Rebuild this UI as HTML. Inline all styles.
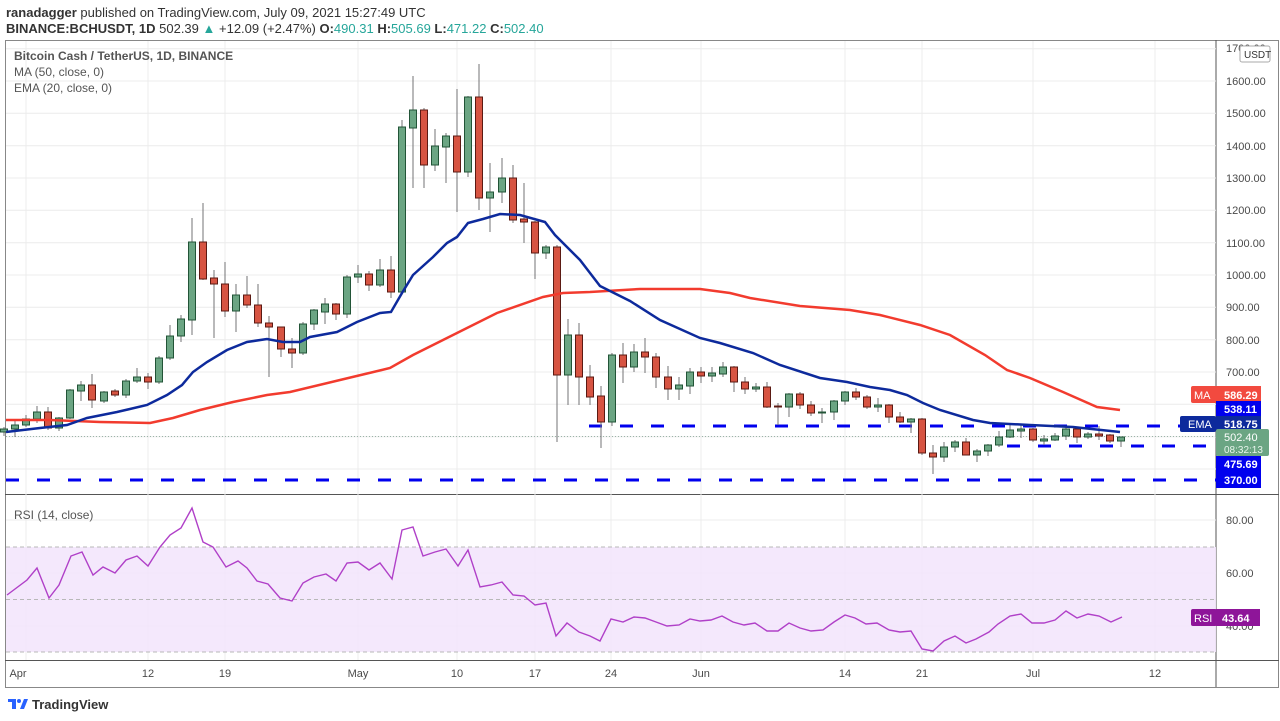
<!DOCTYPE html>
<html><head><meta charset="utf-8"><style>
body{margin:0;background:#fff;}
svg{display:block;font-family:"Liberation Sans",sans-serif;}
.w{stroke:#737375;stroke-width:1}
.g{fill:#6ba583;stroke:#225437;stroke-width:1}
.r{fill:#d75442;stroke:#5b1a13;stroke-width:1}
.gr{stroke:#ececec;stroke-width:1}
.ax{font-size:11px;fill:#4a4a4a}
.tl{font-size:11px;fill:#4a4a4a;text-anchor:middle}
</style></head><body>
<svg width="1280" height="721" viewBox="0 0 1280 721">
<rect width="1280" height="721" fill="#fff"/>
<text x="6" y="17" font-size="13" fill="#333"><tspan font-weight="bold">ranadagger</tspan> published on TradingView.com, July 09, 2021 15:27:49 UTC</text>
<text x="6" y="33" font-size="13" fill="#333"><tspan font-weight="bold">BINANCE:BCHUSDT, 1D</tspan>  502.39 <tspan fill="#26a69a">▲</tspan> +12.09 (+2.47%) <tspan font-weight="bold">O:</tspan><tspan fill="#26a69a">490.31</tspan> <tspan font-weight="bold">H:</tspan><tspan fill="#26a69a">505.69</tspan> <tspan font-weight="bold">L:</tspan><tspan fill="#26a69a">471.22</tspan> <tspan font-weight="bold">C:</tspan><tspan fill="#26a69a">502.40</tspan></text>
<!-- frame -->
<rect x="5.5" y="40.5" width="1273" height="647" fill="none" stroke="#888"/>
<line x1="1216" y1="40" x2="1216" y2="687" stroke="#555"/>
<line x1="5" y1="494.5" x2="1279" y2="494.5" stroke="#555"/>
<line x1="5" y1="660.5" x2="1279" y2="660.5" stroke="#555"/>
<!-- grids -->
<g class="gr">
<line x1="6" x2="1216" y1="48.7" y2="48.7"/><line x1="6" x2="1216" y1="81" y2="81"/><line x1="6" x2="1216" y1="113.3" y2="113.3"/><line x1="6" x2="1216" y1="145.7" y2="145.7"/><line x1="6" x2="1216" y1="178" y2="178"/><line x1="6" x2="1216" y1="210.3" y2="210.3"/><line x1="6" x2="1216" y1="242.7" y2="242.7"/><line x1="6" x2="1216" y1="275" y2="275"/><line x1="6" x2="1216" y1="307.3" y2="307.3"/><line x1="6" x2="1216" y1="339.7" y2="339.7"/><line x1="6" x2="1216" y1="372" y2="372"/><line x1="6" x2="1216" y1="404.3" y2="404.3"/><line x1="6" x2="1216" y1="436.7" y2="436.7"/><line x1="6" x2="1216" y1="469" y2="469"/>
<line x1="6" x2="1216" y1="520" y2="520"/><line x1="6" x2="1216" y1="573" y2="573"/><line x1="6" x2="1216" y1="626" y2="626"/>
<line y1="41" y2="660" x1="26" x2="26"/><line y1="41" y2="660" x1="148" x2="148"/><line y1="41" y2="660" x1="225" x2="225"/><line y1="41" y2="660" x1="358" x2="358"/><line y1="41" y2="660" x1="457" x2="457"/><line y1="41" y2="660" x1="535" x2="535"/><line y1="41" y2="660" x1="611" x2="611"/><line y1="41" y2="660" x1="701" x2="701"/><line y1="41" y2="660" x1="845" x2="845"/><line y1="41" y2="660" x1="922" x2="922"/><line y1="41" y2="660" x1="1033" x2="1033"/><line y1="41" y2="660" x1="1155" x2="1155"/>
</g>
<!-- legend -->
<text x="14" y="60" font-size="12" fill="#555" font-weight="bold">Bitcoin Cash / TetherUS, 1D, BINANCE</text>
<text x="14" y="76" font-size="12" fill="#555">MA (50, close, 0)</text>
<text x="14" y="92" font-size="12" fill="#555">EMA (20, close, 0)</text>
<!-- current price dotted -->
<line x1="6" x2="1216" y1="436.5" y2="436.5" stroke="#9bb5a8" stroke-dasharray="1,2"/>
<!-- dashed levels -->
<g stroke="#0000ee" stroke-width="3" stroke-dasharray="13,18">
<line x1="589" x2="1216" y1="426" y2="426"/>
<line x1="1007" x2="1216" y1="446" y2="446"/>
<line x1="6" x2="1216" y1="480" y2="480"/>
</g>
<!-- candles -->
<g>
<line class="w" x1="4" x2="4" y1="427" y2="436"/><rect class="g" x="0.5" y="429" width="7" height="3"/>
<line class="w" x1="15" x2="15" y1="421" y2="437"/><rect class="g" x="11.5" y="425" width="7" height="4"/>
<line class="w" x1="26" x2="26" y1="415" y2="427"/><rect class="g" x="22.5" y="419" width="7" height="6"/>
<line class="w" x1="37" x2="37" y1="406" y2="423"/><rect class="g" x="33.5" y="412" width="7" height="7"/>
<line class="w" x1="48" x2="48" y1="407" y2="430"/><rect class="r" x="44.5" y="412" width="7" height="16"/>
<line class="w" x1="59" x2="59" y1="417" y2="431"/><rect class="g" x="55.5" y="418" width="7" height="10"/>
<line class="w" x1="70" x2="70" y1="389" y2="419"/><rect class="g" x="66.5" y="390" width="7" height="28"/>
<line class="w" x1="81" x2="81" y1="381" y2="401"/><rect class="g" x="77.5" y="385" width="7" height="6"/>
<line class="w" x1="92" x2="92" y1="374" y2="408"/><rect class="r" x="88.5" y="385" width="7" height="15"/>
<line class="w" x1="104" x2="104" y1="391" y2="403"/><rect class="g" x="100.5" y="392" width="7" height="9"/>
<line class="w" x1="115" x2="115" y1="389" y2="397"/><rect class="r" x="111.5" y="391" width="7" height="4"/>
<line class="w" x1="126" x2="126" y1="379" y2="398"/><rect class="g" x="122.5" y="381" width="7" height="14"/>
<line class="w" x1="137" x2="137" y1="368" y2="383"/><rect class="g" x="133.5" y="377" width="7" height="4"/>
<line class="w" x1="148" x2="148" y1="373" y2="389"/><rect class="r" x="144.5" y="377" width="7" height="5"/>
<line class="w" x1="159" x2="159" y1="356" y2="384"/><rect class="g" x="155.5" y="358" width="7" height="24"/>
<line class="w" x1="170" x2="170" y1="325" y2="360"/><rect class="g" x="166.5" y="336" width="7" height="22"/>
<line class="w" x1="181" x2="181" y1="315" y2="342"/><rect class="g" x="177.5" y="319" width="7" height="17"/>
<line class="w" x1="192" x2="192" y1="218" y2="335"/><rect class="g" x="188.5" y="242" width="7" height="78"/>
<line class="w" x1="203" x2="203" y1="203" y2="280"/><rect class="r" x="199.5" y="242" width="7" height="37"/>
<line class="w" x1="214" x2="214" y1="270" y2="338"/><rect class="r" x="210.5" y="278" width="7" height="6"/>
<line class="w" x1="225" x2="225" y1="262" y2="317"/><rect class="r" x="221.5" y="284" width="7" height="27"/>
<line class="w" x1="236" x2="236" y1="284" y2="332"/><rect class="g" x="232.5" y="295" width="7" height="16"/>
<line class="w" x1="247" x2="247" y1="276" y2="308"/><rect class="r" x="243.5" y="295" width="7" height="10"/>
<line class="w" x1="258" x2="258" y1="284" y2="327"/><rect class="r" x="254.5" y="305" width="7" height="18"/>
<line class="w" x1="269" x2="269" y1="316" y2="377"/><rect class="r" x="265.5" y="323" width="7" height="4"/>
<line class="w" x1="281" x2="281" y1="327" y2="357"/><rect class="r" x="277.5" y="327" width="7" height="22"/>
<line class="w" x1="292" x2="292" y1="338" y2="368"/><rect class="r" x="288.5" y="349" width="7" height="4"/>
<line class="w" x1="303" x2="303" y1="322" y2="355"/><rect class="g" x="299.5" y="324" width="7" height="29"/>
<line class="w" x1="314" x2="314" y1="309" y2="330"/><rect class="g" x="310.5" y="310" width="7" height="14"/>
<line class="w" x1="325" x2="325" y1="298" y2="324"/><rect class="g" x="321.5" y="304" width="7" height="8"/>
<line class="w" x1="336" x2="336" y1="303" y2="320"/><rect class="r" x="332.5" y="304" width="7" height="10"/>
<line class="w" x1="347" x2="347" y1="275" y2="318"/><rect class="g" x="343.5" y="277" width="7" height="37"/>
<line class="w" x1="358" x2="358" y1="265" y2="283"/><rect class="g" x="354.5" y="274" width="7" height="3"/>
<line class="w" x1="369" x2="369" y1="271" y2="291"/><rect class="r" x="365.5" y="274" width="7" height="11"/>
<line class="w" x1="380" x2="380" y1="259" y2="287"/><rect class="g" x="376.5" y="270" width="7" height="15"/>
<line class="w" x1="391" x2="391" y1="256" y2="298"/><rect class="r" x="387.5" y="270" width="7" height="22"/>
<line class="w" x1="402" x2="402" y1="120" y2="293"/><rect class="g" x="398.5" y="127" width="7" height="165"/>
<line class="w" x1="413" x2="413" y1="76" y2="188"/><rect class="g" x="409.5" y="110" width="7" height="18"/>
<line class="w" x1="424" x2="424" y1="108" y2="188"/><rect class="r" x="420.5" y="110" width="7" height="55"/>
<line class="w" x1="435" x2="435" y1="129" y2="171"/><rect class="g" x="431.5" y="146" width="7" height="19"/>
<line class="w" x1="446" x2="446" y1="133" y2="183"/><rect class="g" x="442.5" y="136" width="7" height="11"/>
<line class="w" x1="457" x2="457" y1="89" y2="212"/><rect class="r" x="453.5" y="136" width="7" height="36"/>
<line class="w" x1="468" x2="468" y1="96" y2="177"/><rect class="g" x="464.5" y="97" width="7" height="75"/>
<line class="w" x1="479" x2="479" y1="64" y2="210"/><rect class="r" x="475.5" y="97" width="7" height="101"/>
<line class="w" x1="490" x2="490" y1="163" y2="232"/><rect class="g" x="486.5" y="192" width="7" height="6"/>
<line class="w" x1="502" x2="502" y1="158" y2="203"/><rect class="g" x="498.5" y="178" width="7" height="14"/>
<line class="w" x1="513" x2="513" y1="165" y2="223"/><rect class="r" x="509.5" y="178" width="7" height="42"/>
<line class="w" x1="524" x2="524" y1="183" y2="243"/><rect class="r" x="520.5" y="219" width="7" height="3"/>
<line class="w" x1="535" x2="535" y1="221" y2="279"/><rect class="r" x="531.5" y="222" width="7" height="31"/>
<line class="w" x1="546" x2="546" y1="245" y2="259"/><rect class="g" x="542.5" y="247" width="7" height="6"/>
<line class="w" x1="557" x2="557" y1="245" y2="442"/><rect class="r" x="553.5" y="247" width="7" height="128"/>
<line class="w" x1="568" x2="568" y1="319" y2="405"/><rect class="g" x="564.5" y="335" width="7" height="40"/>
<line class="w" x1="579" x2="579" y1="323" y2="405"/><rect class="r" x="575.5" y="335" width="7" height="42"/>
<line class="w" x1="590" x2="590" y1="365" y2="405"/><rect class="r" x="586.5" y="377" width="7" height="20"/>
<line class="w" x1="601" x2="601" y1="386" y2="448"/><rect class="r" x="597.5" y="396" width="7" height="26"/>
<line class="w" x1="612" x2="612" y1="353" y2="426"/><rect class="g" x="608.5" y="355" width="7" height="67"/>
<line class="w" x1="623" x2="623" y1="343" y2="383"/><rect class="r" x="619.5" y="355" width="7" height="12"/>
<line class="w" x1="634" x2="634" y1="344" y2="372"/><rect class="g" x="630.5" y="352" width="7" height="15"/>
<line class="w" x1="645" x2="645" y1="338" y2="373"/><rect class="r" x="641.5" y="352" width="7" height="5"/>
<line class="w" x1="656" x2="656" y1="353" y2="388"/><rect class="r" x="652.5" y="357" width="7" height="20"/>
<line class="w" x1="668" x2="668" y1="366" y2="400"/><rect class="r" x="664.5" y="377" width="7" height="12"/>
<line class="w" x1="679" x2="679" y1="377" y2="400"/><rect class="g" x="675.5" y="385" width="7" height="4"/>
<line class="w" x1="690" x2="690" y1="368" y2="394"/><rect class="g" x="686.5" y="372" width="7" height="14"/>
<line class="w" x1="701" x2="701" y1="367" y2="383"/><rect class="r" x="697.5" y="372" width="7" height="4"/>
<line class="w" x1="712" x2="712" y1="367" y2="382"/><rect class="g" x="708.5" y="373" width="7" height="3"/>
<line class="w" x1="723" x2="723" y1="362" y2="377"/><rect class="g" x="719.5" y="367" width="7" height="7"/>
<line class="w" x1="734" x2="734" y1="366" y2="392"/><rect class="r" x="730.5" y="367" width="7" height="15"/>
<line class="w" x1="745" x2="745" y1="377" y2="394"/><rect class="r" x="741.5" y="382" width="7" height="7"/>
<line class="w" x1="756" x2="756" y1="383" y2="392"/><rect class="g" x="752.5" y="387" width="7" height="2"/>
<line class="w" x1="767" x2="767" y1="382" y2="408"/><rect class="r" x="763.5" y="387" width="7" height="20"/>
<line class="w" x1="778" x2="778" y1="403" y2="425"/><rect class="r" x="774.5" y="406" width="7" height="1"/>
<line class="w" x1="789" x2="789" y1="393" y2="417"/><rect class="g" x="785.5" y="394" width="7" height="13"/>
<line class="w" x1="800" x2="800" y1="392" y2="409"/><rect class="r" x="796.5" y="394" width="7" height="11"/>
<line class="w" x1="811" x2="811" y1="401" y2="416"/><rect class="r" x="807.5" y="405" width="7" height="8"/>
<line class="w" x1="822" x2="822" y1="408" y2="423"/><rect class="g" x="818.5" y="412" width="7" height="1"/>
<line class="w" x1="834" x2="834" y1="400" y2="420"/><rect class="g" x="830.5" y="401" width="7" height="11"/>
<line class="w" x1="845" x2="845" y1="391" y2="405"/><rect class="g" x="841.5" y="392" width="7" height="9"/>
<line class="w" x1="856" x2="856" y1="388" y2="400"/><rect class="r" x="852.5" y="392" width="7" height="5"/>
<line class="w" x1="867" x2="867" y1="395" y2="409"/><rect class="r" x="863.5" y="397" width="7" height="10"/>
<line class="w" x1="878" x2="878" y1="398" y2="412"/><rect class="g" x="874.5" y="405" width="7" height="2"/>
<line class="w" x1="889" x2="889" y1="404" y2="423"/><rect class="r" x="885.5" y="405" width="7" height="12"/>
<line class="w" x1="900" x2="900" y1="412" y2="423"/><rect class="r" x="896.5" y="417" width="7" height="5"/>
<line class="w" x1="911" x2="911" y1="418" y2="433"/><rect class="g" x="907.5" y="419" width="7" height="3"/>
<line class="w" x1="922" x2="922" y1="418" y2="455"/><rect class="r" x="918.5" y="419" width="7" height="34"/>
<line class="w" x1="933" x2="933" y1="445" y2="474"/><rect class="r" x="929.5" y="453" width="7" height="4"/>
<line class="w" x1="944" x2="944" y1="442" y2="462"/><rect class="g" x="940.5" y="447" width="7" height="10"/>
<line class="w" x1="955" x2="955" y1="440" y2="452"/><rect class="g" x="951.5" y="442" width="7" height="5"/>
<line class="w" x1="966" x2="966" y1="438" y2="455"/><rect class="r" x="962.5" y="442" width="7" height="13"/>
<line class="w" x1="977" x2="977" y1="449" y2="462"/><rect class="g" x="973.5" y="451" width="7" height="4"/>
<line class="w" x1="988" x2="988" y1="444" y2="456"/><rect class="g" x="984.5" y="445" width="7" height="6"/>
<line class="w" x1="999" x2="999" y1="431" y2="447"/><rect class="g" x="995.5" y="437" width="7" height="8"/>
<line class="w" x1="1010" x2="1010" y1="423" y2="438"/><rect class="g" x="1006.5" y="430" width="7" height="7"/>
<line class="w" x1="1021" x2="1021" y1="425" y2="438"/><rect class="g" x="1017.5" y="429" width="7" height="2"/>
<line class="w" x1="1033" x2="1033" y1="428" y2="442"/><rect class="r" x="1029.5" y="429" width="7" height="11"/>
<line class="w" x1="1044" x2="1044" y1="435" y2="445"/><rect class="g" x="1040.5" y="439" width="7" height="2"/>
<line class="w" x1="1055" x2="1055" y1="433" y2="441"/><rect class="g" x="1051.5" y="436" width="7" height="4"/>
<line class="w" x1="1066" x2="1066" y1="426" y2="440"/><rect class="g" x="1062.5" y="429" width="7" height="7"/>
<line class="w" x1="1077" x2="1077" y1="428" y2="443"/><rect class="r" x="1073.5" y="429" width="7" height="8"/>
<line class="w" x1="1088" x2="1088" y1="432" y2="439"/><rect class="g" x="1084.5" y="434" width="7" height="3"/>
<line class="w" x1="1099" x2="1099" y1="426" y2="440"/><rect class="r" x="1095.5" y="434" width="7" height="2"/>
<line class="w" x1="1110" x2="1110" y1="434" y2="443"/><rect class="r" x="1106.5" y="435" width="7" height="6"/>
<line class="w" x1="1121" x2="1121" y1="437" y2="447"/><rect class="g" x="1117.5" y="437" width="7" height="4"/>
</g>
<!-- MA 50 red -->
<polyline fill="none" stroke="#f23b2e" stroke-width="2.5" points="6,420 50,420 100,422 150,423 173,418 200,410 233,402 267,395 290,392 340,380 390,368 413,355 457,333 497,313 543,297 563,293 590,292 640,289 700,289 730,293 750,298 800,306 850,310 880,315 920,325 950,335 985,355 1007,370 1030,378 1063,392 1097,407 1120,410"/>
<!-- EMA 20 blue -->
<polyline fill="none" stroke="#0d2a9c" stroke-width="2.5" points="6,432 40,428 67,425 87,418 117,412 147,405 167,395 182,385 193,372 207,362 227,350 247,342 267,339 283,342 300,342 310,337 337,332 357,322 380,313 391,312 402,293 413,275 433,257 447,243 457,237 468,223 483,219 500,214 520,215 545,222 555,235 567,247 580,260 590,273 600,286 630,301 660,320 700,338 720,343 753,353 780,365 820,378 847,382 870,387 890,390 907,395 923,403 940,410 973,420 990,423 1030,425 1073,427 1120,432"/>
<!-- price axis labels -->
<g class="ax">
<text x="1226" y="52">1700.00</text><text x="1226" y="85">1600.00</text><text x="1226" y="117">1500.00</text><text x="1226" y="150">1400.00</text><text x="1226" y="182">1300.00</text><text x="1226" y="214">1200.00</text><text x="1226" y="247">1100.00</text><text x="1226" y="279">1000.00</text><text x="1226" y="311">900.00</text><text x="1226" y="344">800.00</text><text x="1226" y="376">700.00</text>
<text x="1226" y="524">80.00</text><text x="1226" y="577">60.00</text><text x="1226" y="630">40.00</text>
</g>
<rect x="1240" y="46" width="30" height="16" fill="#fff" stroke="#aaa" rx="2"/>
<text x="1244" y="58" font-size="10" fill="#333">USDT</text>
<!-- price labels -->
<rect x="1191" y="386" width="39" height="17" fill="#f24a3f" rx="2"/><text x="1194" y="399" font-size="11" fill="#fff">MA</text>
<rect x="1216" y="386" width="45" height="17" fill="#f24a3f"/><text x="1224" y="399" font-size="11" fill="#fff" font-weight="bold">586.29</text>
<rect x="1216" y="401" width="45" height="16" fill="#0000ee"/><text x="1224" y="413" font-size="11" fill="#fff" font-weight="bold">538.11</text>
<rect x="1180" y="416" width="36" height="16" fill="#0d2a9c" rx="2"/><text x="1188" y="428" font-size="11" fill="#fff">EMA</text>
<rect x="1216" y="416" width="45" height="16" fill="#0d2a9c"/><text x="1224" y="428" font-size="11" fill="#fff" font-weight="bold">518.75</text>
<rect x="1216" y="429" width="53" height="27" fill="#6ba583" rx="2"/><text x="1224" y="441" font-size="11" fill="#fff">502.40</text><text x="1224" y="453" font-size="10" fill="#e8f4ec">08:32:13</text>
<rect x="1216" y="456" width="45" height="16" fill="#0000ee"/><text x="1224" y="468" font-size="11" fill="#fff" font-weight="bold">475.69</text>
<rect x="1216" y="472" width="45" height="16" fill="#0000ee"/><text x="1224" y="484" font-size="11" fill="#fff" font-weight="bold">370.00</text>
<!-- RSI pane -->
<text x="14" y="519" font-size="12" fill="#555">RSI (14, close)</text>
<rect x="6" y="547" width="1210" height="105" fill="#f3e5fc" opacity="0.9"/>
<g stroke="#b8b8b8" stroke-dasharray="4,3">
<line x1="6" x2="1216" y1="547" y2="547"/><line x1="6" x2="1216" y1="599.5" y2="599.5"/><line x1="6" x2="1216" y1="652" y2="652"/>
</g>
<polyline fill="none" stroke="#b040c8" stroke-width="1.4" points="7,595 27,580 37,568 49,598 59,585 71,556 82,552 93,575 103,567 115,573 126,560 137,556 148,566 160,547 170,535 181,528 192,508 203,542 213,547 226,567 238,561 247,568 257,581 268,584 280,598 292,601 303,583 314,577 326,574 336,581 347,563 358,562 369,570 380,563 392,579 402,530 413,527 423,556 435,552 446,549 458,566 468,550 480,587 491,585 502,582 513,595 524,596 535,605 546,603 556,636 567,623 579,632 590,636 600,641 611,619 623,622 634,617 645,618 656,622 667,626 679,625 690,619 700,621 711,620 722,616 733,622 744,625 755,623 767,631 778,631 789,623 800,628 811,631 823,630 834,622 845,615 855,618 866,624 877,623 889,630 900,632 911,631 922,649 933,651 944,641 955,636 966,643 976,639 989,632 998,624 1010,616 1021,614 1032,623 1044,623 1055,620 1066,611 1077,618 1088,614 1099,616 1111,622 1122,617"/>
<rect x="1191" y="609" width="26" height="17" fill="#8e1599" rx="2"/><text x="1194" y="622" font-size="11" fill="#fff">RSI</text>
<rect x="1216" y="609" width="44" height="17" fill="#8e1599"/><text x="1222" y="622" font-size="11" fill="#fff" font-weight="bold">43.64</text>
<!-- time axis -->
<g class="tl">
<text x="18" y="677">Apr</text><text x="148" y="677">12</text><text x="225" y="677">19</text><text x="358" y="677">May</text><text x="457" y="677">10</text><text x="535" y="677">17</text><text x="611" y="677">24</text><text x="701" y="677">Jun</text><text x="845" y="677">14</text><text x="922" y="677">21</text><text x="1033" y="677">Jul</text><text x="1155" y="677">12</text>
</g>
<!-- footer -->
<g transform="translate(8,697)">
<path d="M0 2 H8 V12 H4 V5 H0 Z" fill="#2962ff"/><circle cx="11" cy="4" r="2" fill="#2962ff"/><path d="M12 12 L16 2 H20 L16 12 Z" fill="#2962ff"/>
</g>
<text x="32" y="709" font-size="13" fill="#333" font-weight="bold">TradingView</text>
</svg>
</body></html>
